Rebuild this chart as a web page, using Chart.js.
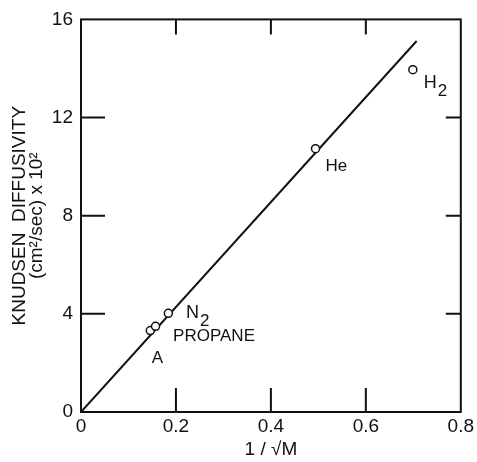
<!DOCTYPE html>
<html lang="en">
  <head>
    <meta charset="UTF-8" />
    <title>Knudsen Diffusivity</title>
    <script src="https://cdn.jsdelivr.net/npm/chart.js@4.4.1/dist/chart.umd.min.js"></script>
    <style>
      body { margin: 0; background: #fff; }
      #wrap { width: 477px; height: 462px; }
    </style>
  </head>
  <body>
    <div id="wrap"><canvas id="knudsenChart" width="477" height="462"></canvas></div>

    <script>
      const gases = ["A", "PROPANE", "N2", "He", "H2"];
      const invSqrtM = [0.146, 0.157, 0.184, 0.494, 0.699];
      const diffusivity = [3.32, 3.49, 4.02, 10.73, 13.95];

      // straight line through the origin
      const fitX = [0, 0.707];
      const fitY = [0, 15.12];

      const xTicks = [0, 0.2, 0.4, 0.6, 0.8];
      const yTicks = [0, 4, 8, 12, 16];

      // text next to the points (anchor in data units, left/middle)
      const labelText = ["A", "PROPANE", "N", "He", "H"];
      const labelSub = ["", "", "2", "", "2"];
      const labelX = [0.149, 0.194, 0.221, 0.515, 0.722];
      const labelY = [2.2, 3.09, 4.04, 10.0, 13.4];
      const labelSize = [17, 17, 18, 17, 18];

      const ink = "#111";
      Chart.defaults.font.family = "'Liberation Sans', Arial, sans-serif";
      Chart.defaults.color = ink;

      // frame and inward tick marks
      const framePlugin = {
        id: "frame",
        afterDatasetsDraw(chart) {
          const { ctx, chartArea: a, scales } = chart;
          ctx.save();
          ctx.strokeStyle = ink;
          ctx.lineWidth = 2;
          ctx.strokeRect(a.left, a.top, a.right - a.left, a.bottom - a.top);
          ctx.beginPath();
          xTicks.slice(1, -1).forEach((v) => {
            const px = scales.x.getPixelForValue(v);
            ctx.moveTo(px, a.bottom);
            ctx.lineTo(px, a.bottom - 24);
            ctx.moveTo(px, a.top);
            ctx.lineTo(px, a.top + 15);
          });
          yTicks.slice(1, -1).forEach((v) => {
            const py = scales.y.getPixelForValue(v);
            ctx.moveTo(a.left, py);
            ctx.lineTo(a.left + 24, py);
            ctx.moveTo(a.right, py);
            ctx.lineTo(a.right - 15, py);
          });
          ctx.stroke();
          ctx.restore();
        },
      };

      const labelPlugin = {
        id: "gasLabels",
        afterDatasetsDraw(chart) {
          const { ctx, scales } = chart;
          ctx.save();
          ctx.fillStyle = ink;
          ctx.textBaseline = "middle";
          ctx.textAlign = "left";
          labelText.forEach((t, i) => {
            const px = scales.x.getPixelForValue(labelX[i]);
            const py = scales.y.getPixelForValue(labelY[i]);
            ctx.font = labelSize[i] + "px 'Liberation Sans', Arial, sans-serif";
            ctx.fillText(t, px, py);
            if (labelSub[i]) {
              const w = ctx.measureText(t).width;
              ctx.font = (labelSize[i] - 1) + "px 'Liberation Sans', Arial, sans-serif";
              ctx.fillText(labelSub[i], px + w + 1, py + 8);
            }
          });
          ctx.restore();
        },
      };

      const ctx = document.getElementById("knudsenChart").getContext("2d");
      window.myChart = new Chart(ctx, {
        type: "scatter",
        data: {
          datasets: [
            {
              label: "gases",
              data: invSqrtM.map((x, i) => ({ x: x, y: diffusivity[i] })),
              pointRadius: 4,
              pointBackgroundColor: "#fff",
              pointBorderColor: ink,
              pointBorderWidth: 1.5,
              showLine: false,
              order: 0,
            },
            {
              label: "fit",
              data: fitX.map((x, i) => ({ x: x, y: fitY[i] })),
              showLine: true,
              borderColor: ink,
              borderWidth: 2,
              pointRadius: 0,
              order: 1,
            },
          ],
        },
        plugins: [framePlugin, labelPlugin],
        options: {
          responsive: false,
          animation: false,
          layout: { padding: { top: 14, right: 9, left: 0, bottom: 0 } },
          plugins: { legend: { display: false }, tooltip: { enabled: false } },
          scales: {
            x: {
              type: "linear",
              min: 0,
              max: 0.8,
              afterBuildTicks: (s) => { s.ticks = xTicks.map((v) => ({ value: v })); },
              afterFit: (s) => { s.height = 50; },
              grid: { display: false, drawTicks: false },
              border: { display: false },
              ticks: { padding: 3, font: { size: 19 }, color: ink },
              title: {
                display: true,
                text: "1 / \u221AM",
                font: { size: 19 },
                color: ink,
                padding: { top: 0, bottom: 1 },
              },
            },
            y: {
              type: "linear",
              min: 0,
              max: 16,
              afterBuildTicks: (s) => { s.ticks = yTicks.map((v) => ({ value: v })); },
              afterFit: (s) => { s.width = 81; },
              grid: { display: false, drawTicks: false },
              border: { display: false },
              ticks: { padding: 8, font: { size: 19 }, color: ink },
              title: {
                display: true,
                text: ["KNUDSEN  DIFFUSIVITY", "(cm\u00B2/sec) x 10\u00B2"],
                font: { size: 19, lineHeight: 0.9 },
                color: ink,
                padding: { top: 11, bottom: 0 },
              },
            },
          },
        },
      });
    </script>
  </body>
</html>
